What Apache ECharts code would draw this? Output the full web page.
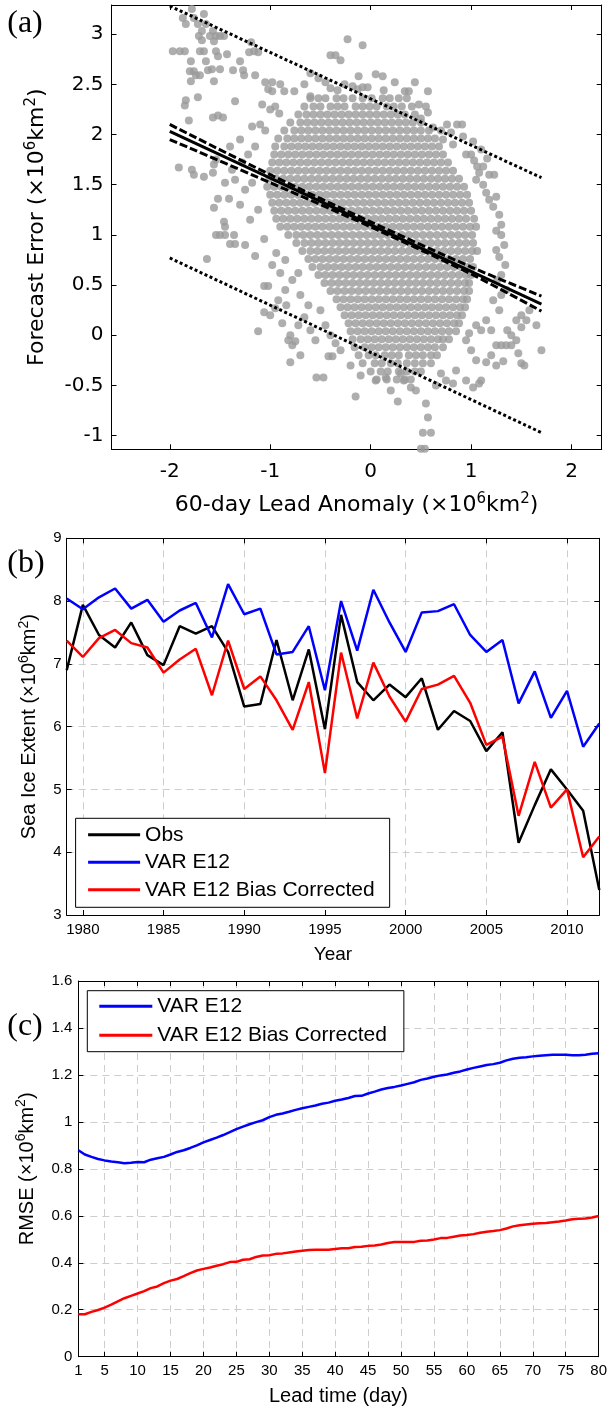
<!DOCTYPE html>
<html>
<head>
<meta charset="utf-8">
<script src="https://cdn.jsdelivr.net/npm/echarts@6/dist/echarts.min.js"></script>
<style>
  html, body { margin: 0; padding: 0; background: #fff; }
  #chart { width: 610px; height: 1409px; }
</style>
</head>
<body>
<div id="chart"></div>
<script>
// ---------- (a) forecast error vs 60-day lead anomaly ----------
// forecast error levels (10^6 km^2) and the lead anomalies (hundredths of 10^6 km^2) on each level
const errLevels = [2.36, 2.28, 2.20, 2.12, 2.04, 1.96, 1.88, 1.80, 1.72, 1.64, 1.56, 1.48,
  1.40, 1.32, 1.24, 1.16, 1.08, 1.00, 0.92, 0.84, 0.76, 0.68, 0.60, 0.52, 0.44, 0.36,
  0.28, 0.20, 0.12, 0.04, -0.04, -0.12, -0.20, -0.28, -0.36, -0.44];
const anomByLevel = [
  [-60,-52,-45,-34,-27,-18,-8,1,12,19,28,36],
  [-66,-57,-50,-40,-33,-26,-15,-8,-1,6,16,23,31,41],
  [-72,-64,-57,-50,-43,-36,-29,-22,-15,-8,-1,6,13,20,27,34,44],
  [-80,-70,-63,-56,-49,-42,-35,-28,-21,-14,-7,0,7,14,21,28,35,42,50],
  [-86,-76,-69,-62,-55,-48,-41,-34,-27,-20,-13,-6,1,8,15,22,29,36,43,50,58],
  [-92,-83,-76,-69,-62,-55,-48,-41,-34,-27,-20,-13,-6,1,8,15,22,29,36,43,50,57,64],
  [-95,-86,-79,-72,-65,-58,-51,-44,-37,-30,-23,-16,-9,-2,5,12,19,26,33,40,47,54,61,68],
  [-96,-89,-82,-75,-68,-61,-54,-47,-40,-33,-26,-19,-12,-5,2,9,16,23,30,37,44,51,58,65,72],
  [-98,-91,-84,-77,-70,-63,-56,-49,-42,-35,-28,-21,-14,-7,0,7,14,21,28,35,42,49,56,63,70,77],
  [-100,-93,-86,-79,-72,-65,-58,-51,-44,-37,-30,-23,-16,-9,-2,5,12,19,26,33,40,47,54,61,68,75,82],
  [-101,-94,-87,-80,-73,-66,-59,-52,-45,-38,-31,-24,-17,-10,-3,4,11,18,25,32,39,46,53,60,67,74,81,88],
  [-103,-96,-89,-82,-75,-68,-61,-54,-47,-40,-33,-26,-19,-12,-5,2,9,16,23,30,37,44,51,58,65,72,79,86,93],
  [-100,-93,-86,-79,-72,-65,-58,-51,-44,-37,-30,-23,-16,-9,-2,5,12,19,26,33,40,47,54,61,68,75,82,89,96],
  [-98,-91,-84,-77,-70,-63,-56,-49,-42,-35,-28,-21,-14,-7,0,7,14,21,28,35,42,49,56,63,70,77,84,91,98],
  [-96,-89,-82,-75,-68,-61,-54,-47,-40,-33,-26,-19,-12,-5,2,9,16,23,30,37,44,51,58,65,72,79,86,93,100],
  [-94,-87,-80,-73,-66,-59,-52,-45,-38,-31,-24,-17,-10,-3,4,11,18,25,32,39,46,53,60,67,74,81,88,95,103],
  [-90,-83,-76,-69,-62,-55,-48,-41,-34,-27,-20,-13,-6,1,8,15,22,29,36,43,50,57,64,71,78,85,92,99,105],
  [-82,-74,-67,-60,-53,-46,-39,-32,-25,-18,-11,-4,3,10,17,24,31,38,45,52,59,66,73,80,87,94,101],
  [-74,-66,-59,-52,-45,-38,-31,-24,-17,-10,-3,4,11,18,25,32,39,46,53,60,67,74,81,88,95,102],
  [-68,-60,-53,-46,-39,-32,-25,-18,-11,-4,3,10,17,24,31,38,45,52,59,66,73,80,87,94,101,106],
  [-62,-55,-48,-41,-34,-27,-20,-13,-6,1,8,15,22,29,36,43,50,57,64,71,78,85,92,99],
  [-58,-50,-43,-36,-29,-22,-15,-8,-1,6,13,20,27,34,41,48,55,62,69,76,83,90,97,102],
  [-52,-45,-38,-31,-24,-17,-10,-3,4,11,18,25,32,39,46,53,60,67,74,81,88,95,100],
  [-46,-39,-32,-25,-18,-11,-4,3,10,17,24,31,38,45,52,59,66,73,80,87,94,98],
  [-40,-33,-26,-19,-12,-5,2,9,16,23,30,37,44,51,58,65,72,79,86,93,98],
  [-34,-27,-20,-13,-6,1,8,15,22,29,36,43,50,57,64,71,78,85,92,96],
  [-30,-23,-16,-9,-2,5,12,19,26,33,40,47,54,61,68,75,82,89,94],
  [-26,-19,-12,-5,2,9,16,23,30,37,44,51,58,65,72,79,86,91],
  [-22,-15,-8,-1,6,13,20,27,34,41,48,55,62,69,76,83,88],
  [-20,-13,-6,1,8,15,22,29,36,43,50,57,64,71,78,85],
  [-18,-10,-3,4,11,18,25,32,39,46,53,60,67,72,78],
  [-16,-6,1,8,15,22,29,36,43,50,57,64,72],
  [-12,-2,5,14,21,28,38,45,52,60,66],
  [-8,4,11,20,27,36,44,52,60],
  [0,10,17,28,36,44,50],
  [6,16,26,34,40]
];
// outlying points [lead anomaly, forecast error]
const scatterExtra = [
  [-1.97,2.83],[-1.90,2.83],[-1.85,2.83],[-1.87,3.16],[-1.84,3.10],[-1.78,3.25],[-1.76,3.16],[-1.72,3.10],
  [-1.66,3.20],[-1.68,3.03],[-1.64,3.10],[-1.60,2.98],[-1.57,3.03],[-1.54,2.98],[-1.50,2.98],[-1.46,2.98],
  [-1.71,2.98],[-1.68,2.94],[-1.56,2.93],[-1.54,2.83],[-1.70,2.83],[-1.66,2.83],[-1.79,2.73],[-1.64,2.73],
  [-1.52,2.78],[-1.43,2.80],[-1.30,2.73],[-1.21,2.82],[-1.16,2.83],[-1.12,2.82],[-1.19,2.92],[-1.80,2.63],
  [-1.76,2.63],[-1.74,2.59],[-1.70,2.59],[-1.62,2.64],[-1.58,2.65],[-1.50,2.65],[-1.37,2.64],[-1.27,2.64],
  [-1.26,2.59],[-1.15,2.59],[-1.79,2.53],[-1.56,2.53],[-1.84,2.34],[-1.85,2.29],[-1.72,2.37],[-1.35,2.33],
  [-1.52,2.19],[-1.57,2.17],[-1.81,2.14],[-1.47,2.17],
  [-1.05,2.52],[-1.02,2.45],[-0.98,2.43],[-0.98,2.52],[-0.90,2.50],[-0.86,2.43],[-0.76,2.43],[-0.66,2.50],
  [-0.60,2.38],[-0.45,2.52],[-0.40,2.46],[-0.33,2.44],[-0.26,2.50],[-0.23,2.95],[-0.08,2.89],[-0.40,2.79],
  [-0.35,2.79],[-0.30,2.74],[-0.18,2.48],[-0.13,2.45],[-0.08,2.47],[-0.03,2.47],[0.12,2.58],[0.13,2.44],
  [0.34,2.43],[0.38,2.43],[0.57,2.43],[0.48,2.30],[0.55,2.28],[0.57,2.22],[0.50,2.16],[-1.08,2.30],
  [-1.00,2.25],[-0.95,2.28],[-0.91,2.21],[-1.10,2.10],[-1.18,2.08],[-1.05,2.04],[-0.60,2.61],[-0.52,2.56],
  [0.05,2.60],[-0.12,2.58],[0.24,2.52],[0.44,2.52],
  [0.62,2.07],[0.70,2.04],[0.76,2.10],[0.80,2.02],[0.86,2.10],[0.91,2.10],[0.72,1.95],[0.82,1.90],
  [0.95,1.80],[1.00,1.80],[1.03,1.74],[1.06,1.68],[1.08,1.62],[1.18,1.60],[1.23,1.60],[1.05,1.55],
  [1.12,1.50],[1.15,1.42],[1.18,1.35],[1.25,1.38],[1.22,1.28],[1.28,1.20],[1.30,1.10],[1.25,1.04],
  [1.30,1.00],[1.33,0.90],[1.25,0.85],[1.28,0.78],[1.34,0.70],[1.30,0.60],[1.26,0.55],[1.35,0.45],
  [1.12,1.68],[1.16,1.76],[1.10,1.85],[1.02,1.93],[0.92,1.98],
  [-1.91,1.67],[-1.78,1.65],[-1.76,1.60],[-1.66,1.58],[-1.57,1.62],[-1.56,1.70],[-1.54,1.75],[-1.41,1.36],
  [-1.56,1.27],[-1.52,1.36],[-1.46,1.13],[-1.45,1.08],[-1.54,1.00],[-1.50,1.00],[-1.45,1.00],[-1.36,1.00],
  [-1.40,0.91],[-1.35,0.91],[-1.63,0.76],[-1.25,0.90],[-1.15,0.79],[-1.06,0.96],[-1.06,0.49],[-1.02,0.49],
  [-0.94,0.82],[-1.12,1.25],[-1.20,1.15],[-1.30,1.30],[-1.25,1.45],[-1.18,1.52],[-1.35,1.55],[-1.45,1.52],
  [-1.38,1.65],[-1.28,1.72],[-1.22,1.80],[-1.15,1.88],[-1.30,1.95],[-1.40,1.88],
  [-1.12,0.04],[-1.06,0.23],[-1.00,0.20],[-0.95,0.27],[-0.92,0.35],[-0.88,0.12],[-0.84,0.30],[-0.80,0.00],
  [-0.82,-0.05],[-0.78,-0.10],[-0.75,-0.06],[-0.80,-0.27],[-0.70,-0.20],[-0.54,-0.42],[-0.47,-0.42],[-0.42,-0.21],
  [-0.38,-0.21],[-0.30,-0.15],[-0.72,0.10],[-0.66,0.18],[-0.60,0.05],[-0.55,-0.05],[-0.62,0.30],[-0.70,0.40],
  [-0.85,0.45],[-0.78,0.55],[-0.72,0.62],[-0.90,0.62],[-0.98,0.70],[-0.85,0.75],[-0.50,0.25],[-0.45,0.10],
  [-0.40,0.00],[-0.35,-0.08],
  [-0.15,-0.61],[0.27,-0.66],[0.55,-0.68],[0.57,-0.82],[0.52,-0.97],[0.60,-0.97],[0.50,-1.13],[0.54,-1.13],
  [0.05,-0.45],[0.15,-0.42],[0.33,-0.45],[0.40,-0.52],[0.45,-0.55],[0.65,-0.50],[0.75,-0.45],[0.82,-0.48],
  [0.95,-0.45],[1.02,-0.52],[1.08,-0.48],[1.10,-0.45],[0.85,-0.35],[-0.20,-0.30],[-0.10,-0.40],[0.20,-0.55],
  [0.30,-0.38],[0.70,-0.38],
  [1.15,-0.27],[1.20,-0.20],[1.25,-0.10],[1.30,-0.10],[1.35,-0.10],[1.40,-0.10],[1.45,-0.05],[1.36,0.05],
  [1.40,0.00],[1.45,0.15],[1.50,0.08],[1.50,0.20],[1.55,0.15],[1.58,0.25],[1.65,0.10],[1.70,-0.15],
  [1.50,-0.28],[1.53,-0.30],[1.47,-0.18],[1.32,-0.26],[1.28,0.25],[1.20,0.05],[1.25,-0.30],[1.05,-0.25],
  [1.00,-0.15],[0.95,-0.05],[1.10,0.05],[1.15,0.15],[1.22,0.35],[1.30,0.40],[0.98,0.02],[1.05,0.10]
];
// regression fit, its confidence band and the prediction bounds
const fitLine = [[-2, 2.03], [1.7, 0.31]];
const ciUpper = [[-2, 2.10], [-1, 1.60], [0, 1.13], [1, 0.68], [1.7, 0.39]];
const ciLower = [[-2, 1.95], [-1, 1.52], [0, 1.08], [1, 0.61], [1.7, 0.24]];
const piUpper = [[-2, 3.28], [1.7, 1.57]];
const piLower = [[-2, 0.77], [1.7, -0.97]];
const anomTicks = [-2, -1, 0, 1, 2];
const errTicks = [-1, -0.5, 0, 0.5, 1, 1.5, 2, 2.5, 3];

// ---------- (b) September sea ice extent ----------
const years = [1979,1980,1981,1982,1983,1984,1985,1986,1987,1988,1989,1990,1991,1992,1993,1994,1995,
  1996,1997,1998,1999,2000,2001,2002,2003,2004,2005,2006,2007,2008,2009,2010,2011,2012];
const obsExtent = [6.90,7.94,7.46,7.26,7.66,7.14,6.98,7.60,7.48,7.60,7.19,6.32,6.36,7.38,6.42,7.23,5.96,
  7.78,6.71,6.42,6.67,6.47,6.77,5.95,6.25,6.09,5.61,5.91,4.15,4.75,5.32,5.00,4.66,3.40];
const varE12Extent = [8.04,7.87,8.06,8.20,7.88,8.02,7.67,7.85,7.97,7.42,8.27,7.79,7.88,7.15,7.19,7.60,6.58,
  8.00,7.21,8.18,7.66,7.19,7.82,7.84,7.95,7.46,7.19,7.38,6.37,6.88,6.14,6.57,5.68,6.05];
const varE12CorrExtent = [7.37,7.11,7.41,7.54,7.33,7.26,6.86,7.07,7.24,6.50,7.37,6.60,6.80,6.42,5.95,6.71,5.26,
  7.18,6.13,7.02,6.48,6.08,6.60,6.67,6.81,6.38,5.71,5.84,4.58,5.44,4.71,5.00,3.92,4.25];
const yearTicks = [1980, 1985, 1990, 1995, 2000, 2005, 2010];

// ---------- (c) RMSE by lead time ----------
const rmseVarE12 = [0.879,0.861,0.851,0.842,0.836,0.831,0.828,0.824,0.826,0.829,
  0.828,0.839,0.845,0.851,0.861,0.872,0.879,0.889,0.900,0.913,
  0.923,0.933,0.944,0.956,0.969,0.980,0.990,0.999,1.007,1.020,
  1.030,1.036,1.043,1.051,1.058,1.064,1.070,1.077,1.082,1.090,
  1.095,1.102,1.110,1.111,1.121,1.129,1.138,1.144,1.149,1.155,
  1.162,1.169,1.179,1.185,1.192,1.198,1.202,1.209,1.215,1.223,
  1.230,1.236,1.242,1.246,1.252,1.262,1.269,1.273,1.275,1.279,
  1.282,1.284,1.286,1.286,1.286,1.284,1.284,1.286,1.290,1.292];
const rmseVarE12Corr = [0.181,0.181,0.191,0.199,0.209,0.222,0.236,0.249,0.259,0.269,
  0.279,0.292,0.299,0.313,0.324,0.331,0.343,0.356,0.367,0.374,
  0.380,0.387,0.394,0.403,0.404,0.413,0.415,0.425,0.431,0.432,
  0.438,0.440,0.444,0.448,0.451,0.454,0.455,0.455,0.455,0.459,
  0.462,0.462,0.467,0.468,0.472,0.474,0.478,0.484,0.488,0.488,
  0.488,0.489,0.494,0.495,0.499,0.505,0.506,0.511,0.516,0.518,
  0.522,0.528,0.532,0.535,0.539,0.546,0.555,0.560,0.563,0.566,
  0.568,0.569,0.573,0.576,0.580,0.585,0.587,0.589,0.593,0.599];
const leadDays = rmseVarE12.map((_, i) => i + 1);
const dayTicks = [1, 5, 10, 15, 20, 25, 30, 35, 40, 45, 50, 55, 60, 65, 70, 75, 80];

// ---------- build ----------
const FA = 'DejaVu Sans';
const FB = 'Liberation Sans';

const scatterData = [];
errLevels.forEach((e, r) => anomByLevel[r].forEach(a => scatterData.push([a / 100, e])));
scatterExtra.forEach(p => scatterData.push(p));

const pair = (xs, ys) => xs.map((x, i) => [x, ys[i]]);

function unitName(label, font, size) {
  return {
    text: '{t|' + label + ' (×10}{s|6}{t|km}{s|2}{t|)}',
    style: {
      color: '#000',
      rich: {
        t: { fontFamily: font, fontSize: size, color: '#000', lineHeight: size + 6 },
        s: { fontFamily: font, fontSize: Math.round(size * 0.68), color: '#000', verticalAlign: 'top', lineHeight: Math.round(size * 0.68) }
      }
    }
  };
}

function axis(opts) {
  const a = {
    gridIndex: opts.grid, type: 'value', position: opts.position,
    min: opts.min, max: opts.max,
    axisLine: { onZero: false, lineStyle: { color: '#000', width: 1 } },
    axisTick: { inside: true, length: 5, lineStyle: { color: '#000', width: 1 } },
    axisLabel: { show: !!opts.labels, color: '#000', fontFamily: opts.font, fontSize: opts.size, margin: opts.margin,
      formatter: v => String(v) },
    splitLine: { show: !!opts.split, lineStyle: { color: '#cdcdcd', width: 1, type: [7, 5] } }
  };
  if (opts.ticks) {
    a.axisTick.customValues = opts.ticks;
    a.axisLabel.customValues = opts.ticks;
  }
  if (opts.interval) a.interval = opts.interval;
  if (opts.name) {
    a.name = opts.name.text;
    a.nameLocation = 'middle';
    a.nameGap = opts.nameGap;
    a.nameRotate = opts.rotate || 0;
    a.nameTextStyle = opts.name.style;
  }
  return a;
}

function legendBox(names, left, top, padding, gap, width) {
  return {
    data: names, orient: 'vertical', left: left, top: top,
    padding: padding, itemGap: gap, itemWidth: width, itemHeight: 3, icon: 'rect',
    borderColor: '#000', borderWidth: 1, backgroundColor: '#fff', borderRadius: 0,
    selectedMode: false,
    textStyle: { fontFamily: FB, fontSize: 21, color: '#000', lineHeight: 21 }
  };
}

const chart = echarts.init(document.getElementById('chart'), null, { renderer: 'canvas' });

const option = {
  animation: false,
  backgroundColor: '#fff',
  grid: [
    { left: 111.5, top: 5, width: 490.2, height: 444.3 },
    { left: 66.7, top: 538.3, width: 532.6, height: 376.7 },
    { left: 78.3, top: 981, width: 521, height: 375.7 }
  ],
  xAxis: [
    axis({ grid: 0, position: 'bottom', min: -2.58, max: 2.3, ticks: anomTicks, labels: true, font: FA, size: 20, margin: 12,
      name: unitName('60-day Lead Anomaly', FA, 22), nameGap: 42 }),
    axis({ grid: 0, position: 'top', min: -2.58, max: 2.3, ticks: anomTicks }),
    axis({ grid: 1, position: 'bottom', min: 1979, max: 2012, ticks: yearTicks, labels: true, font: FB, size: 15, margin: 7, split: true,
      name: { text: 'Year', style: { color: '#000', fontFamily: FB, fontSize: 19 } }, nameGap: 30 }),
    axis({ grid: 1, position: 'top', min: 1979, max: 2012, ticks: yearTicks }),
    axis({ grid: 2, position: 'bottom', min: 1, max: 80, ticks: dayTicks, labels: true, font: FB, size: 15, margin: 7, split: true,
      name: { text: 'Lead time (day)', style: { color: '#000', fontFamily: FB, fontSize: 20 } }, nameGap: 30 }),
    axis({ grid: 2, position: 'top', min: 1, max: 80, ticks: dayTicks })
  ],
  yAxis: [
    axis({ grid: 0, position: 'left', min: -1.136, max: 3.29, ticks: errTicks, labels: true, font: FA, size: 20, margin: 8,
      name: unitName('Forecast Error', FA, 22), nameGap: 60, rotate: 90 }),
    axis({ grid: 0, position: 'right', min: -1.136, max: 3.29, ticks: errTicks }),
    axis({ grid: 1, position: 'left', min: 3, max: 9, interval: 1, labels: true, font: FB, size: 15, margin: 5, split: true,
      name: unitName('Sea Ice Extent', FB, 20), nameGap: 24, rotate: 90 }),
    axis({ grid: 1, position: 'right', min: 3, max: 9, interval: 1 }),
    axis({ grid: 2, position: 'left', min: 0, max: 1.6, interval: 0.2, labels: true, font: FB, size: 15, margin: 6, split: true,
      name: unitName('RMSE', FB, 20), nameGap: 38, rotate: 90 }),
    axis({ grid: 2, position: 'right', min: 0, max: 1.6, interval: 0.2 })
  ],
  legend: [
    legendBox(['Obs', 'VAR E12', 'VAR E12 Bias Corrected'], 75.6, 818.3, [6, 15, 7, 12.5], 6.5, 52),
    legendBox(['VAR E12', 'VAR E12 Bias Corrected'], 87.3, 990.7, [5, 17, 6, 12], 8, 53)
  ],
  graphic: [
    { type: 'text', x: 25, y: 24, style: { text: '(a)', font: '32px "Liberation Serif"', fill: '#000', align: 'center', verticalAlign: 'middle' } },
    { type: 'text', x: 26, y: 564, style: { text: '(b)', font: '32px "Liberation Serif"', fill: '#000', align: 'center', verticalAlign: 'middle' } },
    { type: 'text', x: 25, y: 1027, style: { text: '(c)', font: '32px "Liberation Serif"', fill: '#000', align: 'center', verticalAlign: 'middle' } }
  ],
  series: [
    // (a)
    { type: 'scatter', xAxisIndex: 0, yAxisIndex: 0, data: scatterData, symbolSize: 8,
      itemStyle: { color: '#9a9a9a' }, z: 2, silent: true },
    { type: 'line', xAxisIndex: 0, yAxisIndex: 0, data: piUpper, symbol: 'none', z: 3,
      lineStyle: { color: '#000', width: 3, type: [3, 2.5] } },
    { type: 'line', xAxisIndex: 0, yAxisIndex: 0, data: piLower, symbol: 'none', z: 3,
      lineStyle: { color: '#000', width: 3, type: [3, 2.5] } },
    { type: 'line', xAxisIndex: 0, yAxisIndex: 0, data: ciUpper, symbol: 'none', smooth: 0.3, z: 3,
      lineStyle: { color: '#000', width: 3, type: [8, 3] } },
    { type: 'line', xAxisIndex: 0, yAxisIndex: 0, data: ciLower, symbol: 'none', smooth: 0.3, z: 3,
      lineStyle: { color: '#000', width: 3, type: [8, 3] } },
    { type: 'line', xAxisIndex: 0, yAxisIndex: 0, data: fitLine, symbol: 'none', z: 4,
      lineStyle: { color: '#000', width: 3 } },
    // (b)
    { name: 'Obs', type: 'line', xAxisIndex: 2, yAxisIndex: 2, data: pair(years, obsExtent), symbol: 'none',
      color: '#000', lineStyle: { color: '#000', width: 2.5 } },
    { name: 'VAR E12', type: 'line', xAxisIndex: 2, yAxisIndex: 2, data: pair(years, varE12Extent), symbol: 'none',
      color: '#0000ff', lineStyle: { color: '#0000ff', width: 2.5 } },
    { name: 'VAR E12 Bias Corrected', type: 'line', xAxisIndex: 2, yAxisIndex: 2, data: pair(years, varE12CorrExtent), symbol: 'none',
      color: '#ff0000', lineStyle: { color: '#ff0000', width: 2.5 } },
    // (c)
    { name: 'VAR E12', type: 'line', xAxisIndex: 4, yAxisIndex: 4, data: pair(leadDays, rmseVarE12), symbol: 'none',
      color: '#0000ff', lineStyle: { color: '#0000ff', width: 2.5 } },
    { name: 'VAR E12 Bias Corrected', type: 'line', xAxisIndex: 4, yAxisIndex: 4, data: pair(leadDays, rmseVarE12Corr), symbol: 'none',
      color: '#ff0000', lineStyle: { color: '#ff0000', width: 2.5 } }
  ]
};

chart.setOption(option);
</script>
</body>
</html>
